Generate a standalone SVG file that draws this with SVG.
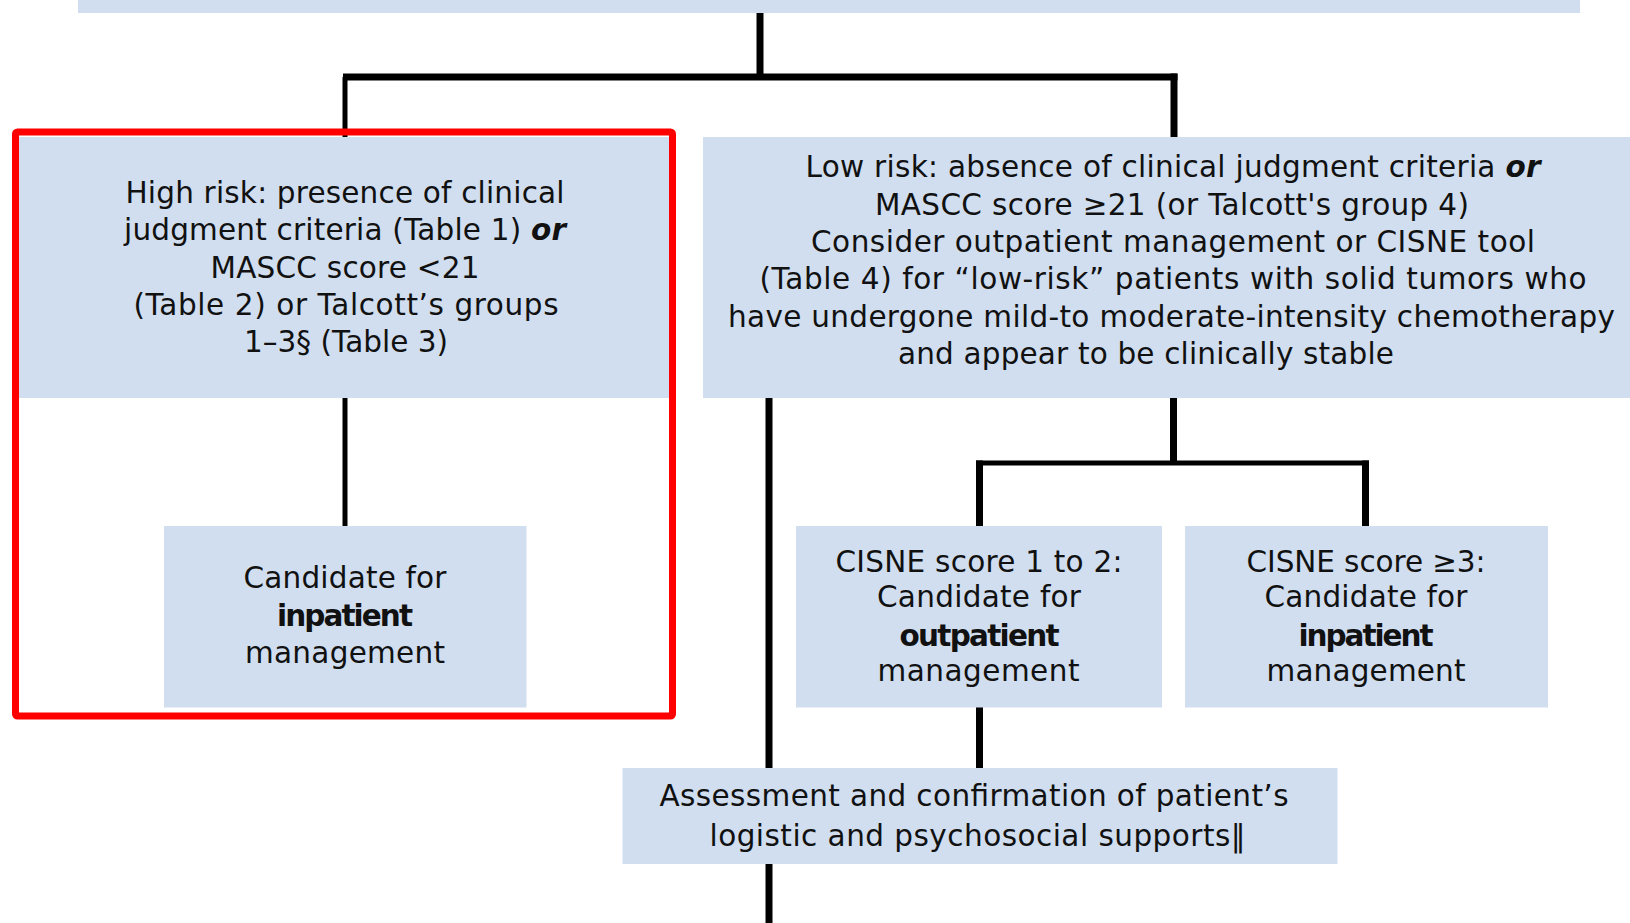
<svg xmlns="http://www.w3.org/2000/svg" width="1630" height="923" viewBox="0 0 1630 923">
<style>
.box{fill:#D0DEF0;stroke:none}
.t{font-family:"DejaVu Sans","Liberation Sans",sans-serif;font-size:29.5px;fill:#111;text-anchor:middle}
.b{font-weight:bold}
.bi{font-weight:bold;font-style:italic}
.ln{stroke:#000;fill:none;stroke-linecap:butt}
.w7{stroke-width:7}
.w5{stroke-width:5}
.frame{fill:none;stroke:#FF0000;stroke-width:7}
</style>
<rect width="1630" height="923" fill="#FFFFFF"/>
<g id="top-box">
<rect class="box" x="78" y="-5" width="1502" height="18"/>
</g>
<g id="connectors">
<line class="ln w7" x1="760" y1="13" x2="760" y2="77"/>
<line class="ln w7" x1="343" y1="77" x2="1177.5" y2="77"/>
<line class="ln w5" x1="345" y1="77" x2="345" y2="137"/>
<line class="ln w7" x1="1174" y1="73.5" x2="1174" y2="137"/>
<line class="ln w5" x1="345" y1="398" x2="345" y2="526"/>
<line class="ln w7" x1="769" y1="398" x2="769" y2="768"/>
<line class="ln w7" x1="769" y1="864" x2="769" y2="923"/>
<line class="ln w7" x1="1173.5" y1="398" x2="1173.5" y2="463"/>
<line class="ln w5" x1="976" y1="463" x2="1369" y2="463"/>
<line class="ln w7" x1="979.5" y1="460.5" x2="979.5" y2="526"/>
<line class="ln w7" x1="1365.5" y1="460.5" x2="1365.5" y2="526"/>
<line class="ln w7" x1="979.5" y1="707" x2="979.5" y2="768"/>
</g>
<g id="high-risk">
<rect class="box" x="19" y="137" width="650" height="261"/>
<text class="t" x="345" y="203" textLength="439">High risk: presence of clinical</text>
<text class="t" x="345" y="240" textLength="442">judgment criteria (Table 1) <tspan class="bi">or</tspan></text>
<text class="t" x="345" y="277.5" textLength="269">MASCC score &lt;21</text>
<text class="t" x="346" y="314.5" textLength="425">(Table 2) or Talcott’s groups</text>
<text class="t" x="346" y="351.5" textLength="204">1–3§ (Table 3)</text>
</g>
<g id="low-risk">
<rect class="box" x="703" y="137" width="940" height="261"/>
<text class="t" x="1173" y="177" textLength="735">Low risk: absence of clinical judgment criteria <tspan class="bi">or</tspan></text>
<text class="t" x="1172" y="214.5" textLength="594">MASCC score ≥21 (or Talcott's group 4)</text>
<text class="t" x="1173" y="251.5" textLength="724">Consider outpatient management or CISNE tool</text>
<text class="t" x="1173" y="289" textLength="827">(Table 4) for “low-risk” patients with solid tumors who</text>
<text class="t" x="1171.5" y="326.5" textLength="887">have undergone mild-to moderate-intensity chemotherapy</text>
<text class="t" x="1146" y="364" textLength="496">and appear to be clinically stable</text>
</g>
<g id="inpatient-high">
<rect class="box" x="164" y="526" width="362.5" height="181.5"/>
<text class="t" x="345" y="588" textLength="203">Candidate for</text>
<text class="t b" x="345" y="626" textLength="136">inpatient</text>
<text class="t" x="345" y="663" textLength="200">management</text>
</g>
<g id="frame-high">
<rect class="frame" x="15.5" y="132" width="657" height="584" rx="2"/>
</g>
<g id="cisne-low">
<rect class="box" x="796" y="526" width="366" height="181.5"/>
<text class="t" x="979" y="572" textLength="287">CISNE score 1 to 2:</text>
<text class="t" x="979" y="607" textLength="204">Candidate for</text>
<text class="t b" x="979.5" y="645.5" textLength="160">outpatient</text>
<text class="t" x="978.5" y="681" textLength="202">management</text>
</g>
<g id="cisne-high">
<rect class="box" x="1185" y="526" width="363" height="181.5"/>
<text class="t" x="1366" y="572" textLength="239">CISNE score ≥3:</text>
<text class="t" x="1366" y="607" textLength="203">Candidate for</text>
<text class="t b" x="1366" y="645.5" textLength="135">inpatient</text>
<text class="t" x="1366" y="681" textLength="199">management</text>
</g>
<g id="assessment">
<rect class="box" x="622.5" y="768" width="715" height="96"/>
<text class="t" x="974" y="806" textLength="629">Assessment and confirmation of patient’s</text>
<text class="t" x="977.5" y="846" textLength="536">logistic and psychosocial supports‖</text>
</g>
</svg>
